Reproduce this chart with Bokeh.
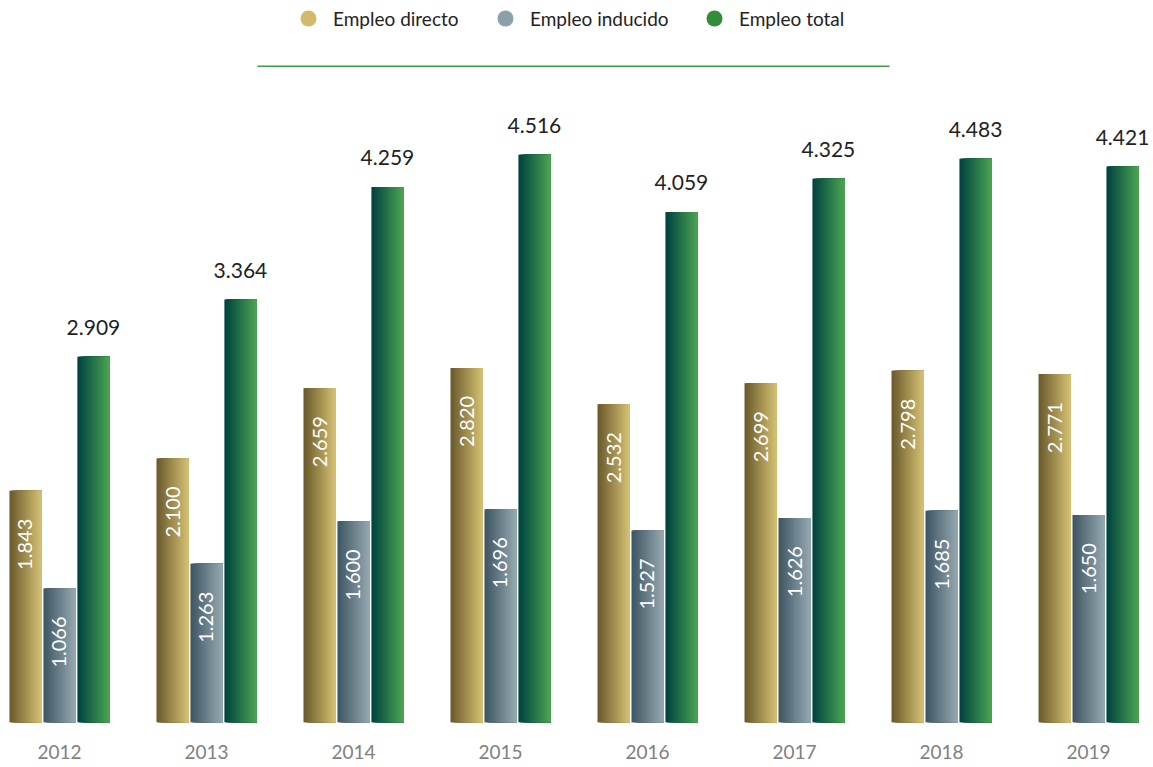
import numpy as np
from bokeh.plotting import figure
from bokeh.models import (ColumnDataSource, FixedTicker, Legend, LegendItem,
                          BoxAnnotation, Range1d)
from bokeh.core.properties import value
from bokeh.embed import file_html
from bokeh.resources import INLINE

# ---- data ----
years = ["2012", "2013", "2014", "2015", "2016", "2017", "2018", "2019"]
directo = [1843, 2100, 2659, 2820, 2532, 2699, 2798, 2771]
inducido = [1066, 1263, 1600, 1696, 1527, 1626, 1685, 1650]
total = [2909, 3364, 4259, 4516, 4059, 4325, 4483, 4421]
series_names = ["Empleo directo", "Empleo inducido", "Empleo total"]

# ---- style ----
legend_colors = ["#d3b96a", "#8ca0a9", "#328c3a"]
grad_left = ["#6b5a2b", "#3f5663", "#00433f"]
grad_right = ["#d4c074", "#94a8b0", "#4ba353"]
FONT = "Lato"
offsets = [-0.231, 0.0, 0.231]
bar_w = 0.218
N = 32


def fmt(v):
    return f"{v:,}".replace(",", ".")


def hex2rgb(h):
    h = h.lstrip("#")
    return tuple(int(h[i:i + 2], 16) for i in (0, 2, 4))


def lerp_color(c0, c1, t):
    a, b = hex2rgb(c0), hex2rgb(c1)
    return "#%02x%02x%02x" % tuple(int(round(a[i] + (b[i] - a[i]) * t)) for i in range(3))


series = [directo, inducido, total]
x_idx = np.arange(len(years))

p = figure(frame_width=1153, frame_height=722,
           x_range=Range1d(-0.401, 7.442), y_range=Range1d(0, 5742),
           output_backend="svg", toolbar_location=None, y_axis_location=None,
           min_border=0, outline_line_color=None)
p.xgrid.visible = False
p.ygrid.visible = False

# gradient bars: strips drawn left->right, each reaching the bar's right edge,
# so later strips cover earlier ones (no seams)
xs, ws, tops, cols = [], [], [], []
sw = bar_w / N
for s, vals in enumerate(series):
    for k in range(N):
        c = lerp_color(grad_left[s], grad_right[s], k / (N - 1))
        for i, v in enumerate(vals):
            left = x_idx[i] + offsets[s] - bar_w / 2 + k * sw
            right = x_idx[i] + offsets[s] + bar_w / 2
            xs.append((left + right) / 2)
            ws.append(right - left)
            tops.append(v)
            cols.append(c)
p.vbar(x="x", top="top", bottom=0, width="w", color="c",
       source=ColumnDataSource(dict(x=xs, w=ws, top=tops, c=cols)), line_color=None)

# rotated labels inside directo / inducido bars
for s in (0, 1):
    src = ColumnDataSource(dict(x=x_idx + offsets[s], y=series[s],
                                t=[fmt(v) for v in series[s]]))
    p.text(x="x", y="y", text="t", source=src, angle=np.pi / 2,
           text_align="right", text_baseline="middle", y_offset=28,
           text_color="white", text_font=value(FONT), text_font_size="20px")

# total labels above bars
src = ColumnDataSource(dict(x=x_idx + offsets[2], y=total, t=[fmt(v) for v in total]))
p.text(x="x", y="y", text="t", source=src, text_align="center",
       text_baseline="bottom", y_offset=-22, text_color="#222222",
       text_font=value(FONT), text_font_size="21px")

# x axis
p.xaxis.ticker = FixedTicker(ticks=list(range(len(years))))
p.xaxis.major_label_overrides = {i: y for i, y in enumerate(years)}
p.xaxis.axis_line_color = None
p.xaxis.major_tick_line_color = None
p.xaxis.minor_tick_line_color = None
p.xaxis.major_tick_out = 0
p.xaxis.major_tick_in = 0
p.xaxis.major_label_standoff = 22
p.xaxis.major_label_text_font = FONT
p.xaxis.major_label_text_font_size = "19px"
p.xaxis.major_label_text_color = "#808080"

# legend (one item per legend for exact placement)
leg_x = [288, 485, 694]
for s in range(3):
    r = p.scatter(x="x", y="y", source=ColumnDataSource(dict(x=[np.nan], y=[np.nan])),
                  marker="circle", size=16, fill_color=legend_colors[s], line_color=None)
    lg = Legend(items=[LegendItem(label=series_names[s], renderers=[r])],
                location=(leg_x[s], 684), glyph_width=40, glyph_height=40,
                label_standoff=5, padding=0, margin=0, spacing=0,
                border_line_color=None, background_fill_alpha=0,
                label_text_font=FONT, label_text_font_size="19px",
                label_text_color="#222222", label_height=40)
    p.add_layout(lg, "center")

# green rule under the legend
p.add_layout(BoxAnnotation(left=257, right=889, bottom=655.5, top=657,
                           left_units="screen", right_units="screen",
                           bottom_units="screen", top_units="screen",
                           fill_color="#3f9b46", fill_alpha=1, line_color=None))

open("out.html", "w").write(file_html(p, INLINE))
